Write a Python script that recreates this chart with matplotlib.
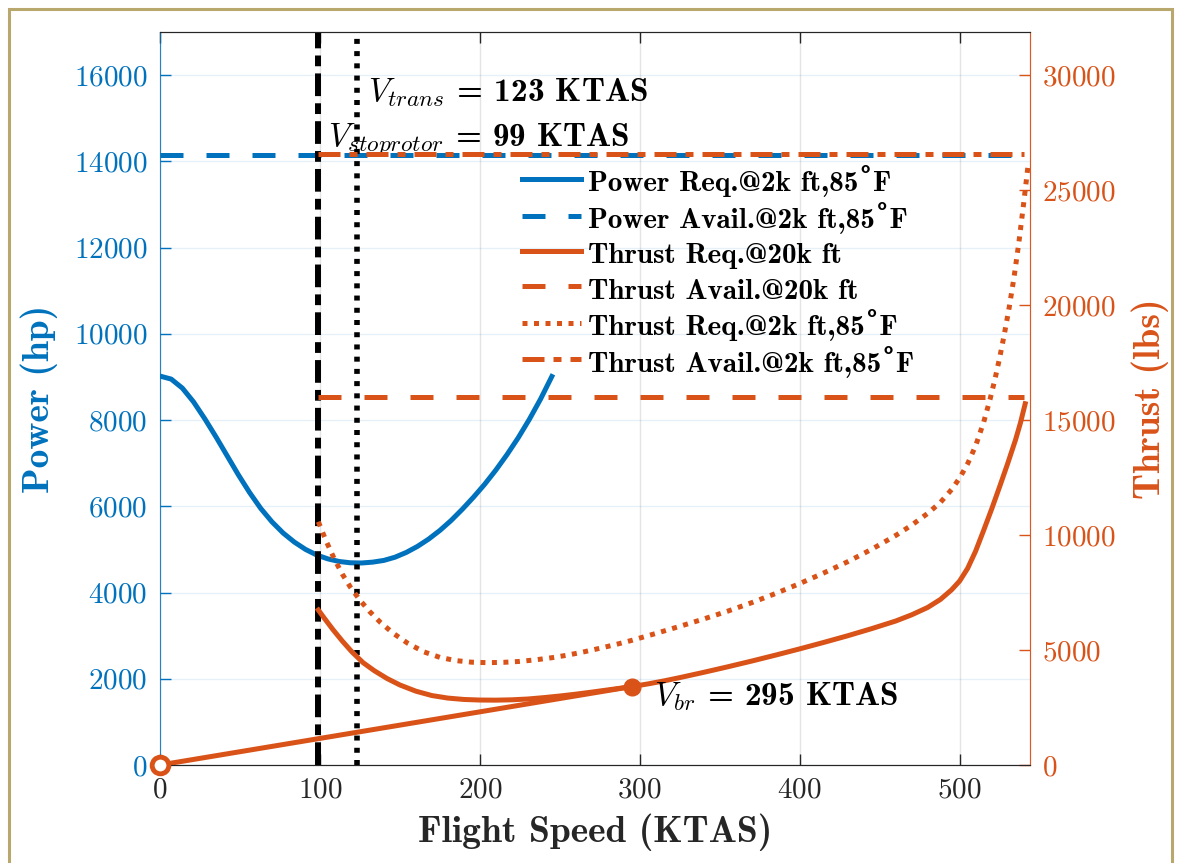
import matplotlib
matplotlib.use("Agg")
import matplotlib.pyplot as plt
from matplotlib.patches import Rectangle

plt.rcParams['font.family'] = 'cmr10'
plt.rcParams['mathtext.fontset'] = 'cm'
plt.rcParams['axes.formatter.use_mathtext'] = True

BLUE = '#0072BD'
ORANGE = '#D95319'
BOLD = ['cmb10', 'DejaVu Serif']

# power required @2k ft, 85F (hp)
v_power = [0, 7, 14, 21, 28, 35, 42, 49, 56, 63, 70, 77, 84, 91, 98, 105, 112, 119, 126, 133,
           140, 147, 154, 161, 168, 175, 182, 189, 196, 203, 210, 217, 224, 231, 238, 245]
p_req = [9020, 8950, 8740, 8420, 8030, 7610, 7170, 6730, 6320, 5950, 5640, 5380, 5170, 5000,
         4870, 4780, 4720, 4690, 4685, 4705, 4745, 4820, 4930, 5070, 5240, 5440, 5670, 5930,
         6210, 6510, 6840, 7200, 7590, 8020, 8490, 9010]
p_avail = 14150

# thrust required @20k ft (lbs)
v_t20 = [99, 103, 108, 114, 120, 127, 134, 142, 150, 160, 170, 180, 190, 200, 210, 220, 230,
         240, 250, 260, 270, 280, 290, 295, 305, 315, 325, 340, 355, 370, 385, 400, 415, 430,
         445, 460, 470, 480, 488, 495, 500, 505, 510, 515, 520, 525, 530, 535, 538, 541]
t_req20 = [6740, 6360, 5900, 5390, 4920, 4450, 4100, 3760, 3480, 3210, 3020, 2910, 2850, 2825,
           2820, 2835, 2870, 2930, 3000, 3080, 3170, 3265, 3360, 3410, 3525, 3655, 3800, 4030,
           4270, 4520, 4780, 5050, 5330, 5620, 5930, 6260, 6530, 6850, 7200, 7620, 8000, 8550,
           9300, 10200, 11125, 12100, 13100, 14150, 14870, 15710]
t_avail20 = 16000

# thrust required @2k ft, 85F (lbs)
v_t2 = [99, 104, 109, 114, 119, 125, 131, 138, 146, 155, 165, 175, 185, 195, 205, 215, 225,
        235, 245, 255, 265, 275, 285, 295, 310, 325, 340, 355, 370, 385, 400, 415, 430, 445,
        460, 470, 480, 488, 495, 500, 505, 510, 515, 519, 522, 525, 528, 531, 534, 537, 540, 543]
t_req2 = [10580, 9720, 8960, 8300, 7740, 7170, 6680, 6190, 5720, 5290, 4920, 4680, 4540, 4470,
          4450, 4465, 4505, 4575, 4665, 4780, 4920, 5075, 5240, 5420, 5720, 6030, 6350, 6690,
          7060, 7460, 7890, 8350, 8840, 9380, 9980, 10430, 10940, 11420, 11980, 12480, 13100,
          13880, 14900, 15900, 16750, 17700, 18750, 19900, 21200, 22700, 24400, 26200]
t_avail2 = 26550

v_stoprotor = 99
v_trans = 123
v_br = 295
t_br = 3410
v_end = 540

fig = plt.figure(figsize=(11.78, 8.63), dpi=100)
ax1 = fig.add_axes([160/1178, 1 - 765/863, 870/1178, 733/863])
ax2 = ax1.twinx()

LW = 3.6

# left axis: power
ax1.plot([0, v_end], [p_avail, p_avail], color=BLUE, lw=LW, ls=(0, (4.6, 4.6)),
         label='Power Avail.@2k ft,85˚F')
ax1.plot(v_power, p_req, color=BLUE, lw=LW, solid_joinstyle='round',
         label='Power Req.@2k ft,85˚F')

# right axis: thrust + speed markers
ax2.axvline(v_stoprotor, color='black', lw=4.3, ls=(0, (3.8, 1.2, 1.8, 1.2)))
ax2.axvline(v_trans, color='black', lw=4, ls=(0, (0.9, 1.3)))
ax2.plot(v_t20, t_req20, color=ORANGE, lw=LW, solid_joinstyle='round',
         label='Thrust Req.@20k ft')
ax2.plot([0, v_br], [0, t_br], color=ORANGE, lw=LW)
ax2.plot([v_stoprotor, v_end], [t_avail20, t_avail20], color=ORANGE, lw=LW,
         ls=(0, (4.6, 4.6)), label='Thrust Avail.@20k ft')
ax2.plot(v_t2, t_req2, color=ORANGE, lw=LW, ls=(0, (1, 1.3)),
         label='Thrust Req.@2k ft,85˚F')
ax2.plot([v_stoprotor, v_end], [t_avail2, t_avail2], color=ORANGE, lw=LW,
         ls=(0, (4.4, 1.8, 1.6, 1.8)), label='Thrust Avail.@2k ft,85˚F')
ax2.plot([0], [0], 'o', ms=12, mfc='white', mec=ORANGE, mew=3.5, clip_on=False, zorder=5)
ax2.plot([v_br], [t_br], 'o', ms=12, color=ORANGE, zorder=5)

ax1.set_xlim(0, 544)
ax1.set_ylim(0, 17000)
ax2.set_ylim(0, 31875)
ax1.set_xticks([0, 100, 200, 300, 400, 500])
ax1.set_yticks(range(0, 16001, 2000))
ax2.set_yticks(range(0, 30001, 5000))

ax1.grid(axis='y', color=BLUE, alpha=0.1, lw=1)
ax1.grid(axis='x', color='#262626', alpha=0.12, lw=1)
ax1.set_axisbelow(True)

ax1.tick_params(axis='x', direction='in', length=8, width=1, colors='#262626',
                labelsize=21, pad=9, top=True)
ax1.tick_params(axis='y', direction='in', length=8, width=1, colors=BLUE,
                labelsize=21, pad=9)
ax2.tick_params(axis='y', direction='in', length=8, width=1, colors=ORANGE,
                labelsize=21, pad=9)
for ax in (ax1, ax2):
    ax.spines['bottom'].set_color('#262626')
    ax.spines['top'].set_color('#262626')
    ax.spines['left'].set_color(BLUE)
    ax.spines['right'].set_color(ORANGE)
    ax.spines['right'].set_alpha(0.8)
    ax.spines['left'].set_alpha(0.6)

ax1.set_xlabel('Flight Speed (KTAS)', fontfamily='cmb10', fontsize=27, color='#262626')
ax1.set_ylabel('Power (hp)', fontfamily='cmb10', fontsize=27, color=BLUE)
ax2.set_ylabel('Thrust (lbs)', fontfamily='cmb10', fontsize=27, color=ORANGE)
ax1.xaxis.set_label_coords(0.5, -0.066)
ax1.yaxis.set_label_coords(-0.117, 0.5)
ax2.yaxis.set_label_coords(1.117, 0.5)

ax1.text(130, 15400, '$V_{trans}$ = 123 KTAS', fontfamily='cmb10', fontsize=24, va='baseline')
ax1.text(105, 14380, '$V_{stoprotor}$ = 99 KTAS', fontfamily='cmb10', fontsize=24, va='baseline')
ax2.text(309, 2610, '$V_{br}$ = 295 KTAS', fontfamily='cmb10', fontsize=24, va='baseline')

# tall handle boxes give every legend row the same height
h1, l1 = ax1.get_legend_handles_labels()
h2, l2 = ax2.get_legend_handles_labels()
order_h = [h1[1], h1[0]] + h2
order_l = [l1[1], l1[0]] + l2
ax2.legend(order_h, order_l, loc='upper left', bbox_to_anchor=(0.4157, 0.818),
           frameon=False, prop={'family': BOLD, 'weight': 'bold', 'size': 21},
           handlelength=2.05, handleheight=1.2, handletextpad=0.22, labelspacing=0.155,
           borderpad=0, borderaxespad=0)

fig.patches.append(Rectangle((9/1178, -0.02), 1163/1178, 1.02 - 9/863, transform=fig.transFigure,
                             fill=False, edgecolor='#b8a86e', lw=2.2))

fig.savefig('out.png', dpi=100)
